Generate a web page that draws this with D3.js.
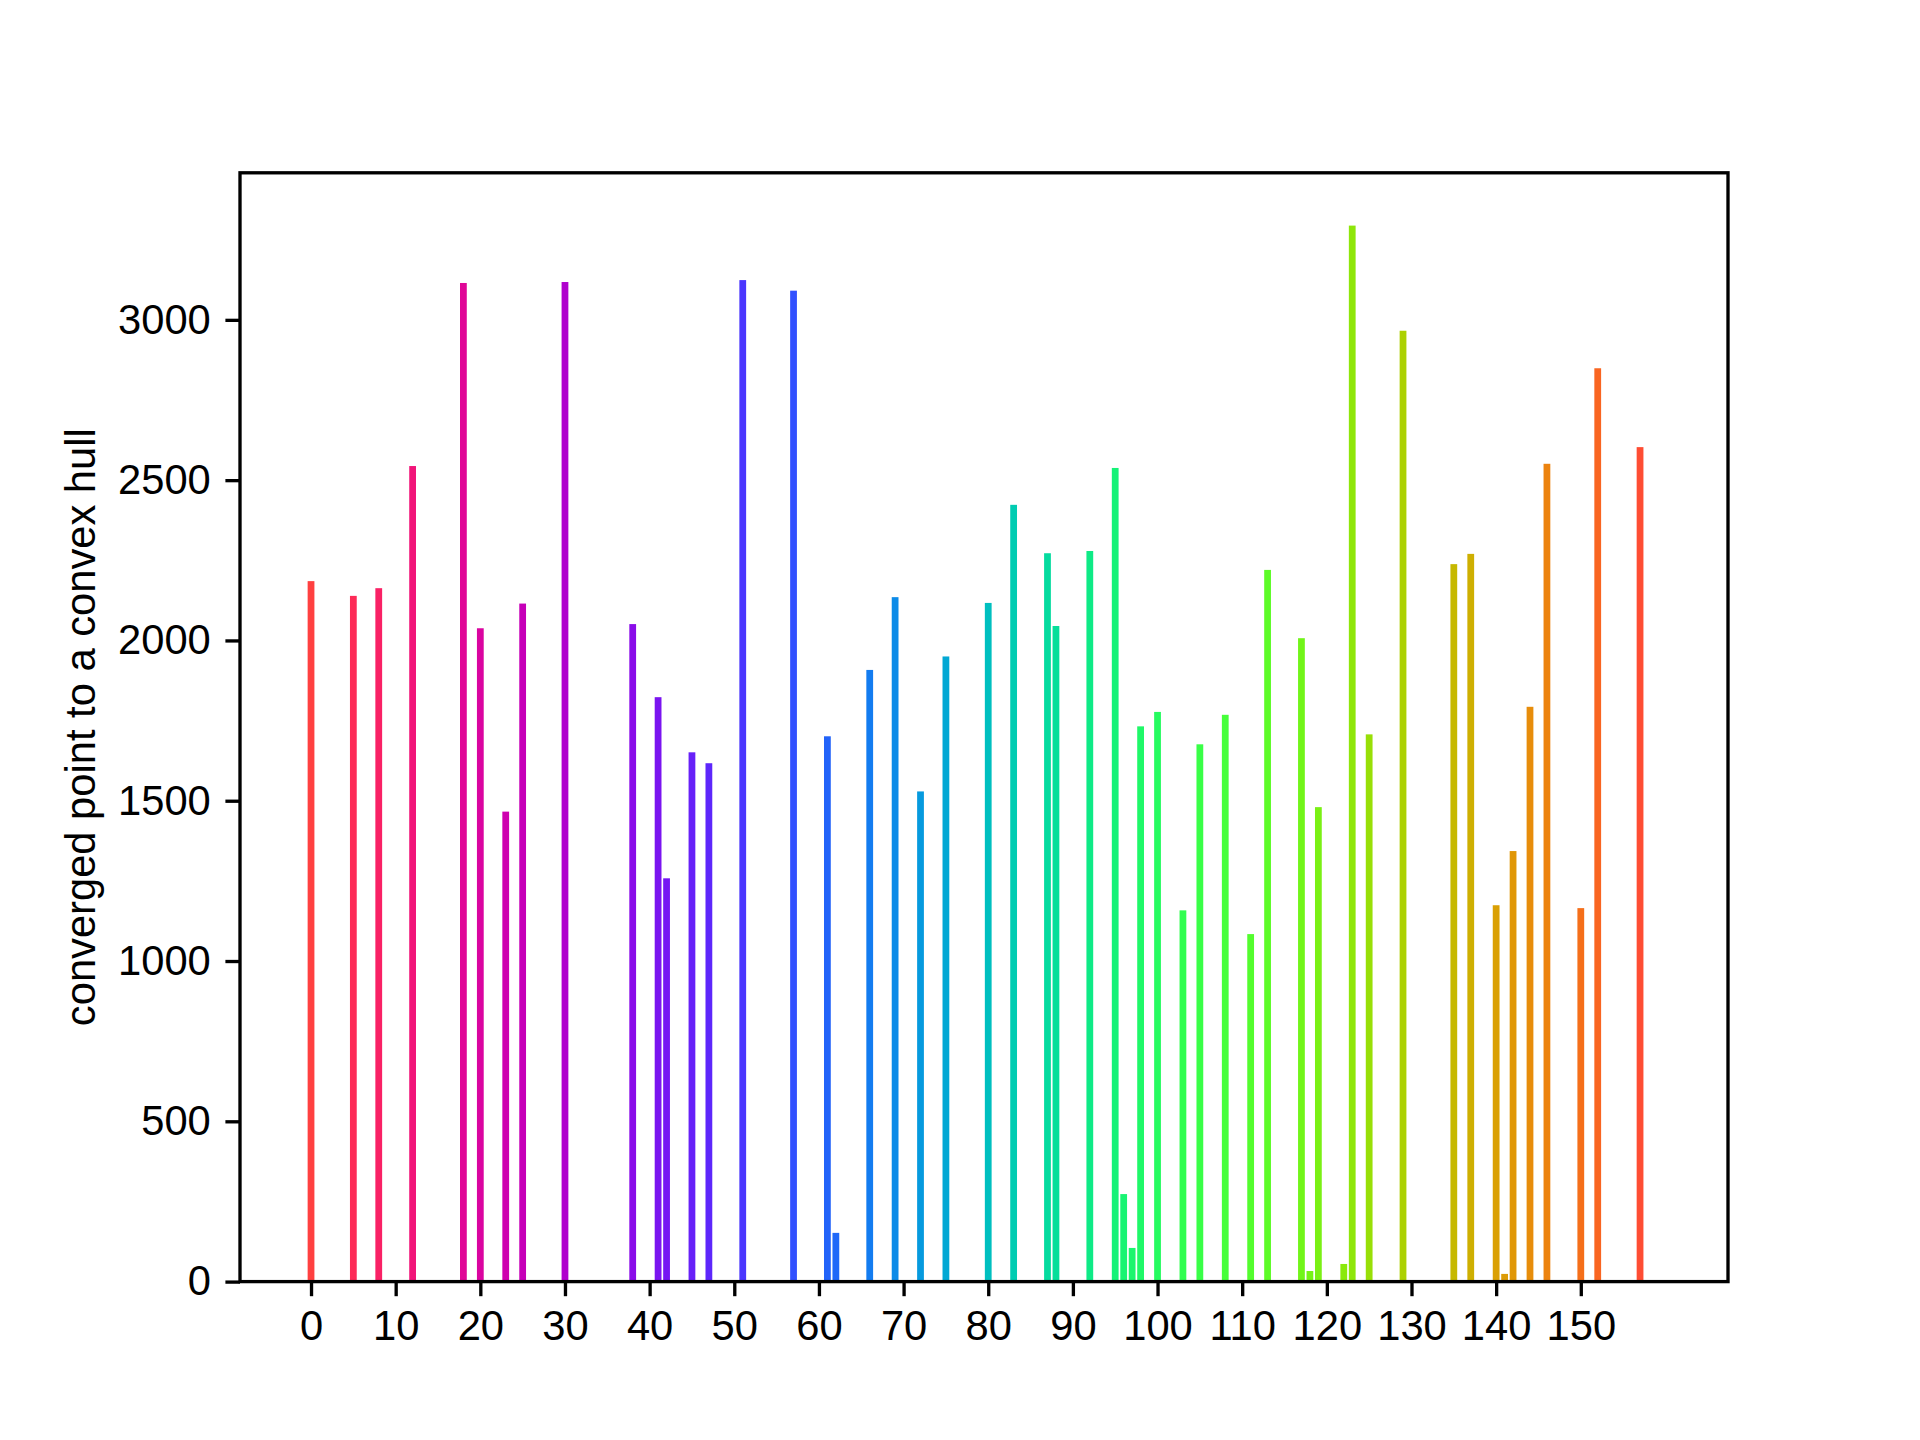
<!DOCTYPE html>
<html>
<head>
<meta charset="utf-8">
<script src="https://cdn.jsdelivr.net/npm/d3@7"></script>
<style>
  html, body { margin: 0; padding: 0; background: #ffffff; }
  svg { display: block; }
  text { font-family: "Liberation Sans", Arial, Helvetica, sans-serif; fill: #000; }
</style>
</head>
<body>
<svg id="chart" width="1920" height="1440"></svg>
<script>
// ---- data ----
const nBars = 160;
const positions = [0,5,8,12,18,20,23,25,30,38,41,42,45,47,51,57,61,62,66,69,72,75,80,83,87,88,91,92,95,96,97,98,100,103,105,108,111,112,113,117,118,119,122,123,125,129,135,137,140,141,142,144,146,150,152,157];
const values = [2185,2139,2163,2544,3115,2038,1466,2115,3118,2051,1823,1258,1651,1617,3124,3091,1701,152,1908,2135,1529,1950,2117,2423,2272,2045,3,2279,2538,273,105,1732,1777,1158,1676,1768,1084,3,2220,2007,33,1480,55,3294,1707,2966,2238,2270,1174,24,1343,1793,2551,1165,2849,2603];
const xTicks = [0,10,20,30,40,50,60,70,80,90,100,110,120,130,140,150];
const yTicks = [0,500,1000,1500,2000,2500,3000];
const yLabel = "converged point to a convex hull";

(function () {
  // ---- layout ----
  const W = 1920, H = 1440;
  const axL = 240, axR = 1728, axT = 172.8, axB = 1281.6;
  const lw = 3.33, tickLen = 14.6, pad = 14.6, fs = 41.7;
  const barW = 0.8;

  const svg = d3.select("#chart");
  svg.append("rect").attr("width", W).attr("height", H).attr("fill", "#fff");

  const data = positions.map((p, i) => ({ i: p, v: values[i] }));

  const lo = -barW / 2, hi = (nBars - 1) + barW / 2;
  const m = (hi - lo) * 0.05;
  const x = d3.scaleLinear().domain([lo - m, hi + m]).range([axL, axR]);
  const yMax = d3.max(values) * 1.05;
  const y = d3.scaleLinear().domain([0, yMax]).range([axB, axT]);

  const color = i => d3.interpolateSinebow(1 - i / nBars);

  // bars
  svg.append("g").selectAll("rect").data(data).join("rect")
    .attr("x", d => x(d.i - barW / 2))
    .attr("width", d => x(d.i + barW / 2) - x(d.i - barW / 2))
    .attr("y", d => y(d.v))
    .attr("height", d => y(0) - y(d.v))
    .attr("fill", d => color(d.i));

  // x axis
  const xAxis = d3.axisBottom(x).tickValues(xTicks).tickFormat(d3.format("d"))
    .tickSize(tickLen).tickPadding(pad);
  const gx = svg.append("g").attr("transform", `translate(0,${axB})`).call(xAxis);
  gx.select(".domain").remove();
  gx.selectAll(".tick line").attr("stroke", "#000").attr("stroke-width", lw);
  gx.selectAll(".tick text").attr("font-size", fs)
    .attr("font-family", '"Liberation Sans", Arial, sans-serif').attr("fill", "#000");

  // y axis
  const yAxis = d3.axisLeft(y).tickValues(yTicks).tickFormat(d3.format("d"))
    .tickSize(tickLen).tickPadding(pad);
  const gy = svg.append("g").attr("transform", `translate(${axL},0)`).call(yAxis);
  gy.select(".domain").remove();
  gy.selectAll(".tick line").attr("stroke", "#000").attr("stroke-width", lw);
  gy.selectAll(".tick text").attr("font-size", fs)
    .attr("font-family", '"Liberation Sans", Arial, sans-serif').attr("fill", "#000");

  // frame (spines)
  svg.append("rect")
    .attr("x", axL).attr("y", axT)
    .attr("width", axR - axL).attr("height", axB - axT)
    .attr("fill", "none").attr("stroke", "#000").attr("stroke-width", lw);

  // y label
  svg.append("text")
    .attr("transform", `translate(94.5,${(axT + axB) / 2}) rotate(-90)`)
    .attr("text-anchor", "middle")
    .attr("font-size", fs)
    .text(yLabel);
})();
</script>
</body>
</html>
